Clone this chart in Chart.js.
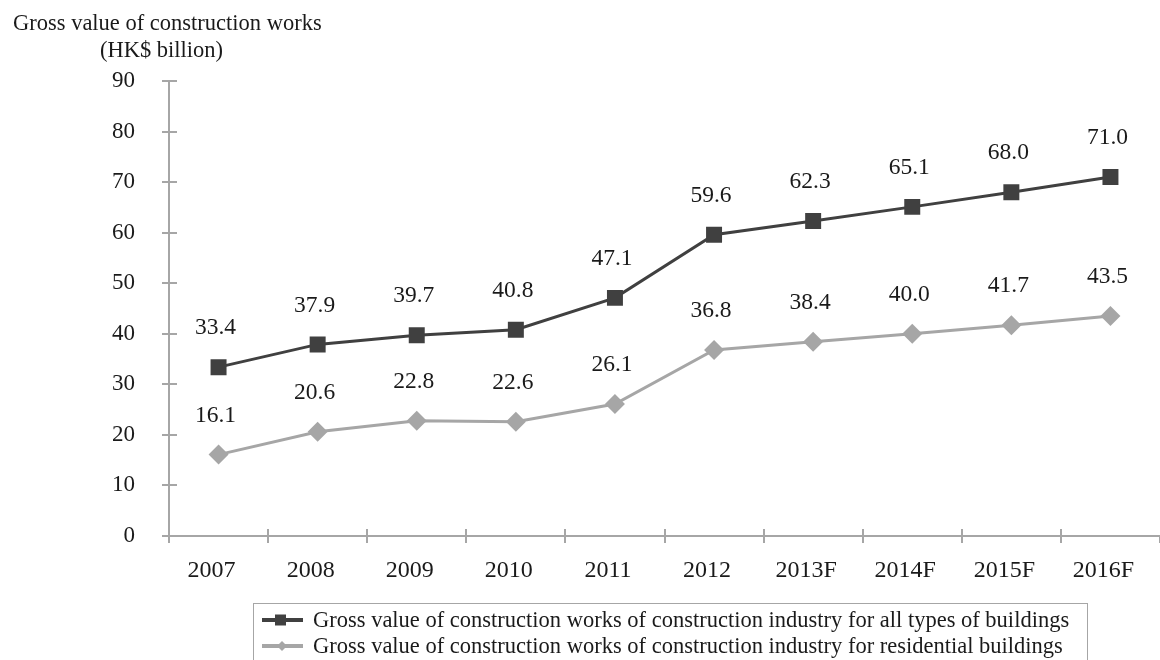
<!DOCTYPE html>
<html><head><meta charset="utf-8">
<script src="https://cdn.jsdelivr.net/npm/chart.js@4/dist/chart.umd.min.js"></script>
<style>html,body{margin:0;padding:0;background:#fff;}#wrap{width:1160px;height:660px;}</style>
</head><body><div id="wrap"><canvas id="c" width="1160" height="660"></canvas></div>
<script>
const categories = ["2007","2008","2009","2010","2011","2012","2013F","2014F","2015F","2016F"];
const allBuildings = [33.4,37.9,39.7,40.8,47.1,59.6,62.3,65.1,68.0,71.0];
const residential = [16.1,20.6,22.8,22.6,26.1,36.8,38.4,40.0,41.7,43.5];
const yMin = 0, yMax = 90, yStep = 10;
const titleLines = ["Gross value of construction works","(HK$ billion)"];
const seriesLabels = [
  "Gross value of construction works of construction industry for all types of buildings",
  "Gross value of construction works of construction industry for residential buildings"
];

const FONT = '"Liberation Serif", "Times New Roman", serif';
const AXIS = '#a6a6a6';
const DARK = '#404040';
const LIGHT = '#a6a6a6';
const TEXT = '#1a1a1a';

const extras = {
  id: 'extras',
  afterDraw(chart) {
    const ctx = chart.ctx;
    const ca = chart.chartArea;
    const ys = chart.scales.y;
    ctx.save();
    // inner tick halves
    ctx.strokeStyle = AXIS; ctx.lineWidth = 2;
    ys.ticks.forEach((t, i) => {
      const y = Math.round(ys.getPixelForTick(i));
      ctx.beginPath(); ctx.moveTo(ca.left, y); ctx.lineTo(ca.left + 8, y); ctx.stroke();
    });
    const n = categories.length;
    for (let i = 0; i < n; i++) {
      const x = Math.round(ca.left + i * (ca.right - ca.left) / n);
      ctx.beginPath(); ctx.moveTo(x, ca.bottom); ctx.lineTo(x, ca.bottom - 7); ctx.stroke();
    }
    // data labels
    ctx.fillStyle = TEXT;
    ctx.font = '23.5px ' + FONT;
    ctx.textAlign = 'center'; ctx.textBaseline = 'middle';
    chart.data.datasets.forEach((ds, di) => {
      const meta = chart.getDatasetMeta(di);
      meta.data.forEach((pt, i) => {
        ctx.fillText(ds.data[i].toFixed(1), pt.x - 3, pt.y - 39);
      });
    });
    // title
    ctx.font = '22.5px ' + FONT;
    ctx.textAlign = 'left'; ctx.textBaseline = 'middle';
    ctx.fillText(titleLines[0], 13, 24);
    ctx.fillText(titleLines[1], 100, 51);
    // legend
    ctx.strokeStyle = AXIS; ctx.lineWidth = 1;
    ctx.strokeRect(253.5, 603.5, 834, 90);
    ctx.textAlign = 'left';
    chart.data.datasets.forEach((ds, di) => {
      const y = 620 + di * 26;
      ctx.strokeStyle = ds.borderColor; ctx.lineWidth = 4;
      ctx.beginPath(); ctx.moveTo(262, y); ctx.lineTo(303, y); ctx.stroke();
      ctx.fillStyle = ds.borderColor;
      ctx.beginPath();
      if (ds.pointStyle === 'rect') { ctx.rect(275, y - 5.5, 11, 11); }
      else { ctx.moveTo(282, y - 5); ctx.lineTo(287, y); ctx.lineTo(282, y + 5); ctx.lineTo(277, y); ctx.closePath(); }
      ctx.fill();
      ctx.fillStyle = TEXT;
      ctx.fillText(ds.label, 313, y + 1);
    });
    ctx.restore();
  }
};

new Chart(document.getElementById('c'), {
  type: 'line',
  data: {
    labels: categories,
    datasets: [
      { label: seriesLabels[0], data: allBuildings, borderColor: DARK, backgroundColor: DARK,
        borderWidth: 3, pointStyle: 'rect', pointRadius: 11.3, pointHoverRadius: 11.3, pointBorderWidth: 0, tension: 0 },
      { label: seriesLabels[1], data: residential, borderColor: LIGHT, backgroundColor: LIGHT,
        borderWidth: 3, pointStyle: 'rectRot', pointRadius: 10, pointHoverRadius: 10, pointBorderWidth: 0, tension: 0 }
    ]
  },
  options: {
    responsive: false, animation: false, devicePixelRatio: 1,
    layout: { autoPadding: false, padding: { top: 81, right: -2, bottom: 0, left: 0 } },
    plugins: { legend: { display: false }, tooltip: { enabled: false }, title: { display: false } },
    scales: {
      x: {
        offset: true,
        grid: { offset: true, drawOnChartArea: false, lineWidth: 2, tickLength: 7,
          color: (c) => (c.index === categories.length ? 'rgba(0,0,0,0)' : AXIS) },
        border: { color: AXIS, width: 2 },
        ticks: { color: TEXT, font: { family: FONT, size: 24 }, padding: 13, maxRotation: 0, autoSkip: false, labelOffset: -7 },
        afterFit(s) { s.height = 124; s.paddingRight = 0; s.paddingLeft = 0; }
      },
      y: {
        min: yMin, max: yMax,
        grid: { drawOnChartArea: false, color: AXIS, lineWidth: 2, tickLength: 7 },
        border: { color: AXIS, width: 2 },
        ticks: { stepSize: yStep, color: TEXT, font: { family: FONT, size: 23 }, padding: 27 },
        afterFit(s) { s.width = 169; s.paddingTop = 0; s.paddingBottom = 0; }
      }
    }
  },
  plugins: [extras]
});
</script></body></html>
